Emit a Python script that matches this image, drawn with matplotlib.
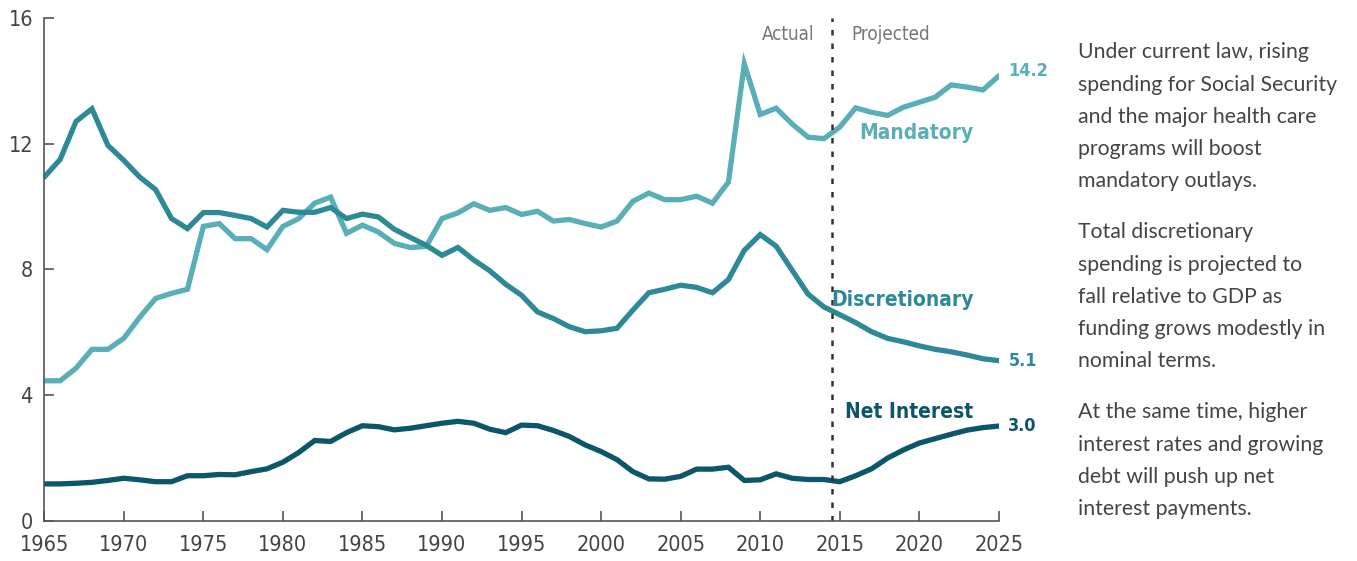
import matplotlib.pyplot as plt
import numpy as np

years = np.arange(1965, 2026)

mandatory = [4.46, 4.46, 4.86, 5.46, 5.46, 5.81, 6.48, 7.08, 7.24, 7.37,
             9.37, 9.46, 8.98, 8.98, 8.63, 9.37, 9.62, 10.11, 10.30, 9.15,
             9.41, 9.19, 8.83, 8.70, 8.73, 9.62, 9.80, 10.09, 9.88, 9.97,
             9.75, 9.85, 9.54, 9.59, 9.46, 9.35, 9.54, 10.17, 10.43, 10.22,
             10.22, 10.33, 10.11, 10.78, 14.54, 12.93, 13.13, 12.63, 12.21, 12.16,
             12.53, 13.14, 13.00, 12.90, 13.16, 13.32, 13.48, 13.87, 13.80, 13.71,
             14.16]

discretionary = [10.94, 11.50, 12.71, 13.11, 11.95, 11.47, 10.94, 10.54, 9.62, 9.30,
                 9.81, 9.81, 9.72, 9.62, 9.35, 9.88, 9.82, 9.82, 9.97, 9.62,
                 9.76, 9.67, 9.28, 9.02, 8.77, 8.45, 8.70, 8.30, 7.96, 7.53,
                 7.18, 6.65, 6.44, 6.18, 6.02, 6.05, 6.13, 6.71, 7.26, 7.37,
                 7.50, 7.43, 7.26, 7.68, 8.61, 9.11, 8.74, 7.98, 7.22, 6.81,
                 6.56, 6.31, 6.02, 5.81, 5.70, 5.57, 5.46, 5.38, 5.28, 5.16,
                 5.10]

net_interest = [1.18, 1.18, 1.20, 1.23, 1.29, 1.36, 1.31, 1.25, 1.25, 1.44,
                1.44, 1.48, 1.47, 1.57, 1.66, 1.87, 2.18, 2.56, 2.53, 2.81,
                3.03, 3.00, 2.90, 2.95, 3.03, 3.11, 3.17, 3.11, 2.92, 2.81,
                3.05, 3.03, 2.88, 2.69, 2.42, 2.21, 1.95, 1.57, 1.34, 1.33,
                1.42, 1.65, 1.65, 1.71, 1.29, 1.31, 1.50, 1.36, 1.32, 1.32,
                1.25, 1.44, 1.66, 2.00, 2.26, 2.48, 2.62, 2.76, 2.89, 2.97,
                3.02]

end_labels = ["14.2", "5.1", "3.0"]
c_mand = '#5aaeb7'
c_disc = '#2e8996'
c_int = '#0c566b'
gray = '#555555'

plt.rcParams['font.family'] = ['DejaVu Sans']
plt.rcParams['font.stretch'] = 'condensed'

fig = plt.figure(figsize=(13.57, 5.61), dpi=100)
ax = fig.add_axes([0.0326, 0.0713, 0.7035, 0.8967])

ax.plot(years, mandatory, color=c_mand, lw=3.8, solid_capstyle='round', solid_joinstyle='miter')
ax.plot(years, discretionary, color=c_disc, lw=3.8, solid_capstyle='round', solid_joinstyle='miter')
ax.plot(years, net_interest, color=c_int, lw=3.8, solid_capstyle='round', solid_joinstyle='miter')

ax.axvline(2014.5, color='#333333', lw=1.8, ls=(0, (2.2, 3.2)))

ax.set_xlim(1965, 2025)
ax.set_ylim(0, 16)
ax.set_xticks(range(1965, 2026, 5))
ax.set_yticks([0, 4, 8, 12, 16])
for s in ['top', 'right']:
    ax.spines[s].set_visible(False)
for s in ['left', 'bottom']:
    ax.spines[s].set_color(gray)
    ax.spines[s].set_linewidth(1.2)
    ax.spines[s].set_clip_on(False)
ax.tick_params(direction='in', length=7, width=1.2, color=gray,
               labelcolor='#444444', labelsize=15.5)
ax.tick_params(axis='x', pad=10)
ax.tick_params(axis='y', pad=8)

# series labels
ax.text(2023.4, 12.33, 'Mandatory', color=c_mand, fontsize=15, fontweight='bold',
        ha='right', va='center')
ax.text(2023.4, 7.03, 'Discretionary', color=c_disc, fontsize=15, fontweight='bold',
        ha='right', va='center')
ax.text(2023.4, 3.47, 'Net Interest', color=c_int, fontsize=15, fontweight='bold',
        ha='right', va='center')

ax.text(2025.6, mandatory[-1] + 0.15, end_labels[0], color=c_mand, fontsize=13,
        fontweight='bold', ha='left', va='center', clip_on=False)
ax.text(2025.6, discretionary[-1], end_labels[1], color=c_disc, fontsize=13,
        fontweight='bold', ha='left', va='center', clip_on=False)
ax.text(2025.6, net_interest[-1], end_labels[2], color=c_int, fontsize=13,
        fontweight='bold', ha='left', va='center', clip_on=False)

ax.text(2013.4, 15.47, 'Actual', color='#777777', fontsize=13.5, ha='right', va='center')
ax.text(2015.7, 15.47, 'Projected', color='#777777', fontsize=13.5, ha='left', va='center')

# side notes
notes = [
    "Under current law, rising\nspending for Social Security\nand the major health care\nprograms will boost\nmandatory outlays.",
    "Total discretionary\nspending is projected to\nfall relative to GDP as\nfunding grows modestly in\nnominal terms.",
    "At the same time, higher\ninterest rates and growing\ndebt will push up net\ninterest payments.",
]
tops = [52, 232, 412]
for note, top in zip(notes, tops):
    fig.text(1078 / 1357, 1 - (top - 9.5) / 561, note, color='#444444', fontsize=15.3,
             family=['Lato', 'DejaVu Sans'], stretch='normal', ha='left', va='top',
             linespacing=1.76)

fig.savefig('out.png', dpi=100)
